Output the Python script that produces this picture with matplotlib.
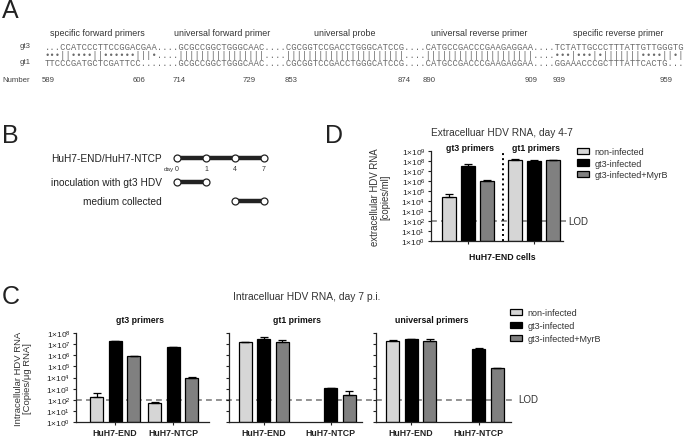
import numpy as np
import matplotlib
matplotlib.use("Agg")
import matplotlib.pyplot as plt
from matplotlib import transforms
from matplotlib.lines import Line2D

nan = np.nan
W, H = 685, 439

plt.rcParams['font.family'] = ['Liberation Sans', 'DejaVu Sans']
plt.rcParams['mathtext.fontset'] = 'custom'
plt.rcParams['mathtext.rm'] = 'Liberation Sans'
plt.rcParams['mathtext.it'] = 'Liberation Sans:italic'
plt.rcParams['mathtext.bf'] = 'Liberation Sans:bold'

# ---------------- data ----------------
# Panel A: alignment
region_labels = ["specific forward primers", "universal forward primer", "universal probe",
                 "universal reverse primer", "specific reverse primer"]
seq_gt3 = "...CCATCCCTTCCGGACGAA....GCGCCGGCTGGGCAAC....CGCGGTCCGACCTGGGCATCCG....CATGCCGACCCGAAGAGGAA....TCTATTGCCCTTTATTGTTGGGTG"
seq_match = "•••||••••||••••••|||•....||||||||||||||||....||||||||||||||||||||||....||||||||||||||||||||....•••|•••|•|||||||••••||•|"
seq_gt1 = "TTCCCGATGCTCGATTCC.......GCGCCGGCTGGGCAAC....CGCGGTCCGACCTGGGCATCCG....CATGCCGACCCGAAGAGGAA....GGAAACCCGCTTTATTCACTG..."
numbers = ["589", "606", "714", "729", "853", "874", "890", "909", "939", "959"]

# Panel B: timeline
timeline_days = ["0", "1", "4", "7"]
timeline_rows = ["HuH7-END/HuH7-NTCP", "inoculation with gt3 HDV", "medium collected"]

# Panels C / D
conditions = ["non-infected", "gt3-infected", "gt3-infected+MyrB"]
cell_lines = ["HuH7-END", "HuH7-NTCP"]
primer_sets_C = ["gt3 primers", "gt1 primers", "universal primers"]
# intracellular HDV RNA, day 7 p.i. [copies/ug RNA]; rows: cell line, cols: condition
intra_gt3 = [[1.7e2, 1.9e7, 8.0e5], [5.0e1, 5.0e6, 9.5e3]]
intra_gt3_top = [[4.0e2, 2.1e7, 8.5e5], [6.0e1, 5.3e6, 1.15e4]]
intra_gt1 = [[1.5e7, 2.7e7, 1.7e7], [nan, 1.05e3, 2.7e2]]
intra_gt1_top = [[1.6e7, 4.0e7, 2.3e7], [nan, 1.2e3, 6.0e2]]
intra_univ = [[2.1e7, 2.7e7, 2.1e7], [nan, 4.0e6, 6.7e4]]
intra_univ_top = [[2.2e7, 3.1e7, 2.8e7], [nan, 4.1e6, 7.0e4]]
# extracellular HDV RNA, day 4-7 [copies/ml], HuH7-END cells; rows: primers
extra_primers = ["gt3 primers", "gt1 primers"]
extra_vals = [[2.8e4, 3.0e7, 1.1e6], [1.3e8, 1.1e8, 1.3e8]]
extra_top = [[5.0e4, 5.5e7, 1.2e6], [1.5e8, 1.3e8, 1.3e8]]
LOD = 1e2

bar_colors = ["#d6d6d6", "#000000", "#808080"]

# ---------------- figure ----------------
fig = plt.figure(figsize=(W / 100, H / 100), dpi=100)
ov = fig.add_axes([0, 0, 1, 1])
ov.set_xlim(0, W)
ov.set_ylim(H, 0)
ov.axis("off")


def px_axes(l, t, r, b):
    ax = fig.add_axes([l / W, 1 - b / H, (r - l) / W, (b - t) / H])
    ax.set_facecolor("none")
    ax.set_xlim(0, r - l)
    return ax


# panel letters
for letter, (x, y) in zip("ABCD", [(2, 11), (2, 136), (2, 297), (325, 136)]):
    ov.text(x, y, letter, fontsize=18, color="#222222", ha="left", va="center")

# ---------------- panel A ----------------
mono = dict(family=["Liberation Mono", "DejaVu Sans Mono"], fontsize=6.43, color="#6a6a6a",
            ha="left", va="center")
x0 = 45
ov.text(x0, 47, seq_gt3, **mono)
ov.text(x0, 55, seq_match, **mono)
ov.text(x0, 63, seq_gt1, **mono)
for lab, y in [("gt3", 47), ("gt1", 63)]:
    ov.text(20, y, lab, fontsize=5.6, color="#444444", ha="left", va="center")
ov.text(2, 80, "Number", fontsize=5.6, color="#444444", ha="left", va="center")
for num, x in zip(numbers, [42, 133, 173, 243, 285, 398, 423, 525, 553, 660]):
    ov.text(x, 80, num, fontsize=5.6, color="#444444", ha="left", va="center")
for lab, x in zip(region_labels, [97, 222, 345, 479, 618]):
    ov.text(x, 33, lab, fontsize=6.4, color="#333333", ha="center", va="center")

# ---------------- panel B ----------------
tx = [177, 206, 235, 264]
rows_y = [159, 183, 202]
spans = [(0, 3), (0, 1), (2, 3)]
for lab, y, (a, b) in zip(timeline_rows, rows_y, spans):
    ov.text(162, y, lab, fontsize=7.3, color="#222222", ha="right", va="center")
    ov.plot([tx[a], tx[b]], [y, y], color="#222222", lw=3.2, solid_capstyle="butt", zorder=2)
    ov.plot(tx[a:b + 1], [y] * (b - a + 1), "o", ms=5, mfc="white", mec="#222222", mew=0.9, zorder=3)
ov.text(174, 170, "day", fontsize=4.6, color="#333333", ha="right", va="center")
for d, x in zip(timeline_days, tx):
    ov.text(x, 170, d, fontsize=5, color="#333333", ha="center", va="center")


def style_log_axis(ax, top_exp, labels=True):
    ax.set_yscale("log")
    ax.set_ylim(1, 10 ** top_exp)
    ticks = 10.0 ** np.arange(0, top_exp + 1)
    ax.set_yticks(ticks)
    ax.yaxis.set_minor_locator(matplotlib.ticker.NullLocator())
    if labels:
        ax.set_yticklabels([f"1×10$^{{{e}}}$" for e in range(0, top_exp + 1)])
    else:
        ax.set_yticklabels([])
    for s in ["top", "right"]:
        ax.spines[s].set_visible(False)
    for s in ["left", "bottom"]:
        ax.spines[s].set_linewidth(0.9)
        ax.spines[s].set_color("#222222")
    ax.tick_params(axis="y", length=2.5, width=0.8, labelsize=6, pad=1.5, colors="#222222")
    ax.tick_params(axis="x", length=2.5, width=0.8, labelsize=6.3, pad=1.8, colors="#222222")


def draw_bars(ax, centers, vals, tops, step, width):
    handles = []
    for k, cond in enumerate(conditions):
        xs, hs, es = [], [], []
        for g, c in enumerate(centers):
            v = vals[g][k]
            if np.isnan(v):
                continue
            xs.append(c + (k - 1) * step)
            hs.append(v)
            es.append(tops[g][k] - v)
        b = ax.bar(xs, np.array(hs) - 1, bottom=1, width=width, color=bar_colors[k],
                   edgecolor="black", linewidth=0.9, label=cond, zorder=2)
        ax.errorbar(xs, hs, yerr=[np.zeros(len(es)), es], fmt="none", ecolor="black",
                    elinewidth=0.9, capsize=2.6, capthick=0.9, zorder=3)
        handles.append(b)
    return handles


# ---------------- panel C ----------------
c_axes_px = [(76, 209), (229, 362), (376, 511)]
c_centers = [[39, 97], [34.5, 101.5], [35, 102.5]]
c_vals = [intra_gt3, intra_gt1, intra_univ]
c_tops = [intra_gt3_top, intra_gt1_top, intra_univ_top]
c_title_x = [140, 297, 432]
axC = []
for i, ((l, r), cen, vals, tops) in enumerate(zip(c_axes_px, c_centers, c_vals, c_tops)):
    ax = px_axes(l, 334, r, 423)
    style_log_axis(ax, 8, labels=(i == 0))
    h = draw_bars(ax, cen, vals, tops, 18.5, 13)
    ax.set_xticks(cen)
    ax.set_xticklabels(cell_lines, fontweight="bold")
    ov.text(c_title_x[i], 321, primer_sets_C[i], fontsize=6.3, fontweight="bold",
            color="#111111", ha="center", va="center")
    axC.append(ax)
    if i == 0:
        handlesC = h

axC[0].set_ylabel("Intracellular HDV RNA\n[Copies/μg RNA]", fontsize=6.8, color="#333333",
                  linespacing=1.0)
axC[0].yaxis.set_label_coords(-0.33, 0.5)
tr = transforms.blended_transform_factory(fig.transFigure, axC[0].transData)
axC[0].add_line(Line2D([76 / W, 514 / W], [LOD, LOD], transform=tr, color="#808080",
                       lw=1.2, ls=(0, (3.5, 2.5)), clip_on=False, zorder=0.5))
ov.text(518, 400, "LOD", fontsize=7, color="#333333", ha="left", va="center")
ov.text(307, 297, "Intracelluar HDV RNA, day 7 p.i.", fontsize=7.4, color="#333333",
        ha="center", va="center")
fig.legend(handles=handlesC, labels=conditions, loc="upper left",
           bbox_to_anchor=(510 / W, 1 - 309 / H), frameon=False, fontsize=6.5,
           handlelength=1.35, handleheight=0.7, handletextpad=0.6, labelspacing=0.45,
           borderpad=0, borderaxespad=0, labelcolor="#333333")

# ---------------- panel D ----------------
axD = px_axes(431, 152, 563, 242)
style_log_axis(axD, 9, labels=True)
d_centers = [37, 103]
handlesD = draw_bars(axD, d_centers, extra_vals, extra_top, 19, 14)
axD.set_xticks(d_centers)
axD.set_xticklabels([])
axD.axvline(72, color="black", lw=1.4, ls=(0, (1, 1.6)), zorder=1)
trD = transforms.blended_transform_factory(fig.transFigure, axD.transData)
axD.add_line(Line2D([431 / W, 566 / W], [LOD, LOD], transform=trD, color="#808080",
                    lw=1.2, ls=(0, (3.5, 2.5)), clip_on=False, zorder=0.5))
axD.set_ylabel("extracellular HDV RNA\n[copies/ml]", fontsize=6.9, color="#333333",
               linespacing=1.0)
axD.yaxis.set_label_coords(-0.31, 0.5)
ov.text(568, 222, "LOD", fontsize=7, color="#333333", ha="left", va="center")
for lab, x in zip(extra_primers, [470, 536]):
    ov.text(x, 149, lab, fontsize=6.3, fontweight="bold", color="#111111", ha="center", va="center")
ov.text(502, 133, "Extracelluar HDV RNA, day 4-7", fontsize=7.3, color="#333333",
        ha="center", va="center")
ov.text(502, 258, "HuH7-END cells", fontsize=6.3, fontweight="bold", color="#111111",
        ha="center", va="center")
fig.legend(handles=handlesD, labels=conditions, loc="upper left",
           bbox_to_anchor=(577 / W, 1 - 148 / H), frameon=False, fontsize=6.5,
           handlelength=1.35, handleheight=0.7, handletextpad=0.6, labelspacing=0.3,
           borderpad=0, borderaxespad=0, labelcolor="#333333")

fig.savefig("out.png", dpi=100)
